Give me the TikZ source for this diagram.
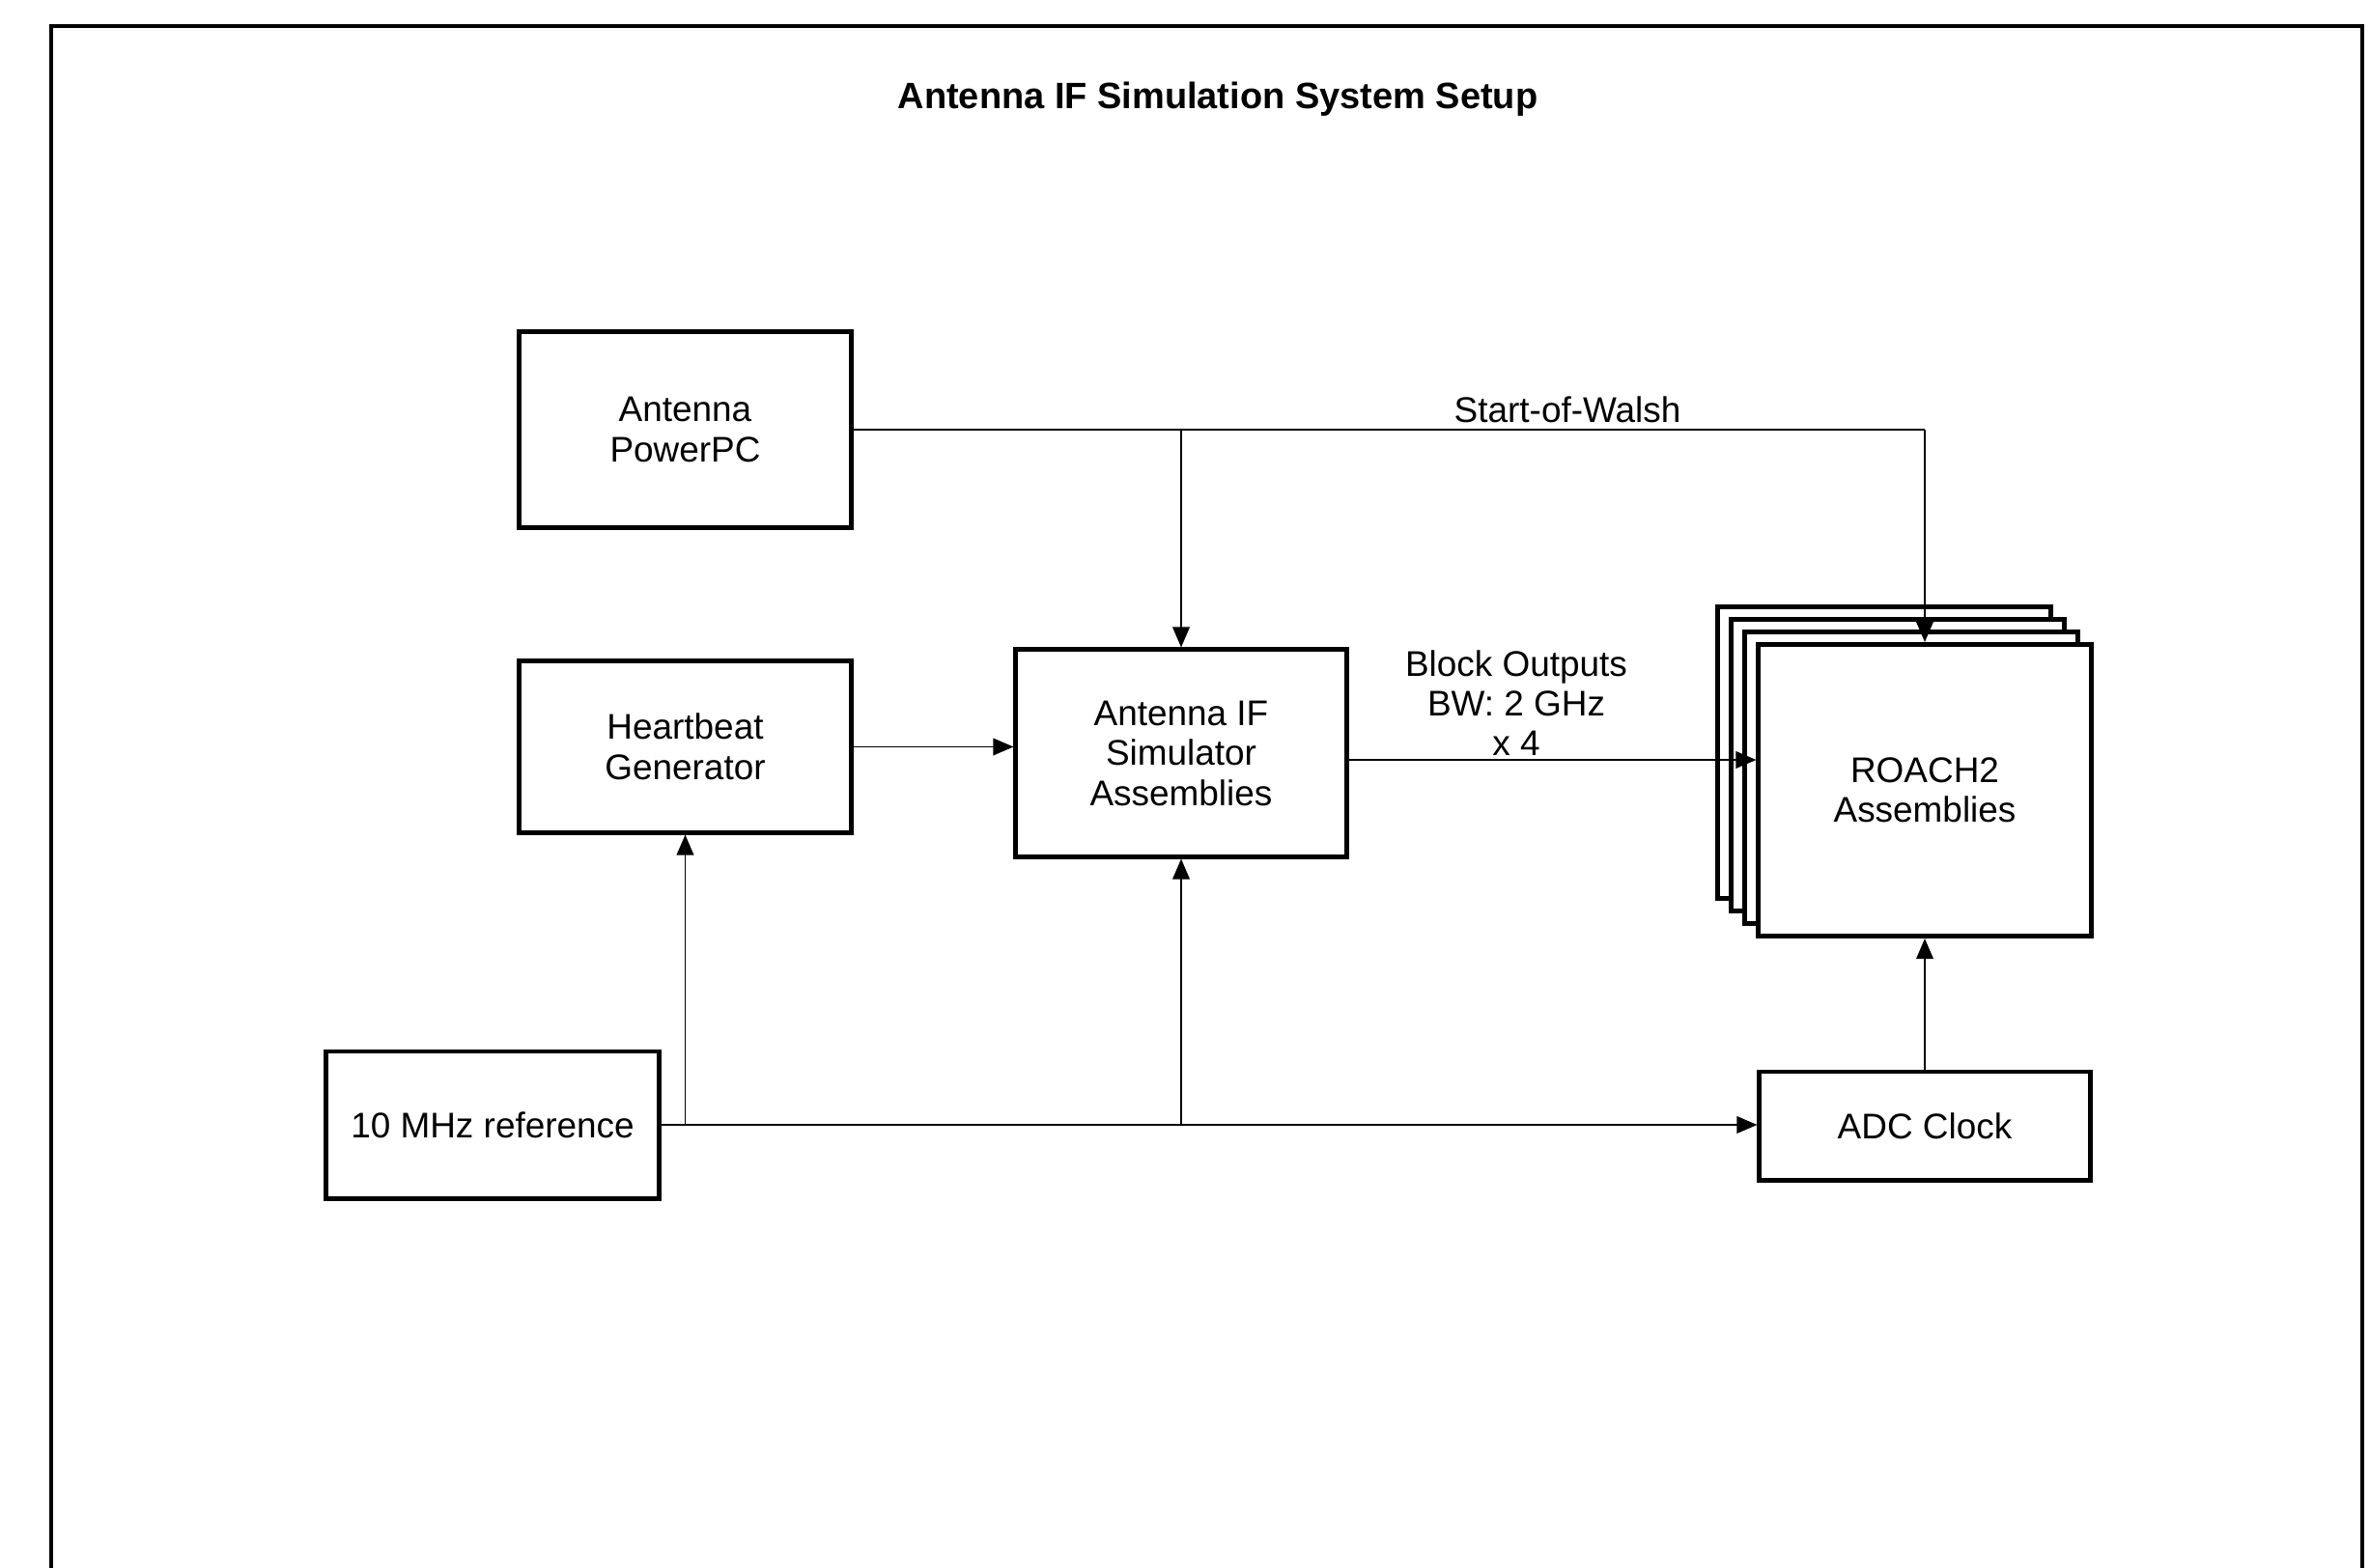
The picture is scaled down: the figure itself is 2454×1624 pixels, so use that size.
\documentclass[tikz,border=0pt]{standalone}
\usepackage{fontspec}
\setmainfont{Liberation Sans}
\usetikzlibrary{arrows.meta,calc}
\tikzset{
  blk/.style={draw, line width=1.4pt, fill=white, align=center, font=\fontsize{10.5}{11.8}\selectfont, inner sep=0pt},
  conn/.style={line width=0.55pt, -{Triangle[length=6pt,width=5pt]}},
  plain/.style={line width=0.55pt},
  lbl/.style={align=center, font=\fontsize{10.5}{11.7}\selectfont, inner sep=0pt}
}
\begin{document}
\begin{tikzpicture}[x=0.01cm,y=-0.01cm]
\useasboundingbox[fill=white] (0,0) rectangle (2454,1624);
% outer frame
\draw[line width=0.9pt] (53,1624) -- (53,27) -- (2446,27) -- (2446,1624);
\node[lbl, font=\bfseries\fontsize{10.8}{12}\selectfont] (title) at (1261,103) {Antenna IF Simulation System Setup};

\node[blk, minimum width=3.43cm, minimum height=2.02cm] (ppc) at (709.5,445) {Antenna\\PowerPC};
\node[blk, minimum width=3.43cm, minimum height=1.77cm] (hb) at (709.5,773.5) {Heartbeat\\Generator};
\node[blk, minimum width=3.44cm, minimum height=1.52cm] (ref) at (510,1165) {10 MHz reference};
\node[blk, minimum width=3.42cm, minimum height=2.14cm] (ifs) at (1223,780) {Antenna IF\\Simulator\\Assemblies};
% ROACH2 stack
\node[blk, minimum width=3.44cm, minimum height=3.02cm] (r3) at (1951,779.5) {};
\node[blk, minimum width=3.44cm, minimum height=3.02cm] (r2) at (1965,792.5) {};
\node[blk, minimum width=3.44cm, minimum height=3.02cm] (r1) at (1979,805.5) {};
\node[blk, minimum width=3.44cm, minimum height=3.02cm] (roach) at (1993,818.5) {ROACH2\\Assemblies};
\node[blk, minimum width=3.42cm, minimum height=1.12cm] (adc) at (1993,1166) {ADC Clock};

% Start-of-Walsh
\coordinate (j1) at (ppc.east -| ifs.north);
\coordinate (j2) at (ppc.east -| roach.north);
\draw[plain] (ppc.east) -- (j2);
\draw[conn] (j1) -- (ifs.north);
\draw[conn] (j2) -- (roach.north);
\node[lbl] (sow) at (1623,424) {Start-of-Walsh};

% heartbeat -> IF sim
\draw[conn] (hb.east) -- (hb.east -| ifs.west);

% IF sim -> ROACH2
\coordinate (o1) at ($(ifs.east)+(0,7)$);
\draw[conn] (o1) -- (o1 -| roach.west);
\node[lbl] (bo) at (1570,728) {Block Outputs\\BW: 2 GHz\\x 4};

% 10 MHz distribution
\coordinate (k1) at (ref.east -| hb.south);
\coordinate (k2) at (ref.east -| ifs.south);
\draw[conn] (ref.east) -- (ref.east -| adc.west);
\draw[conn] (k1) -- (hb.south);
\draw[conn] (k2) -- (ifs.south);

% ADC -> ROACH
\draw[conn] (adc.north) -- (roach.south);
\end{tikzpicture}
\end{document}
